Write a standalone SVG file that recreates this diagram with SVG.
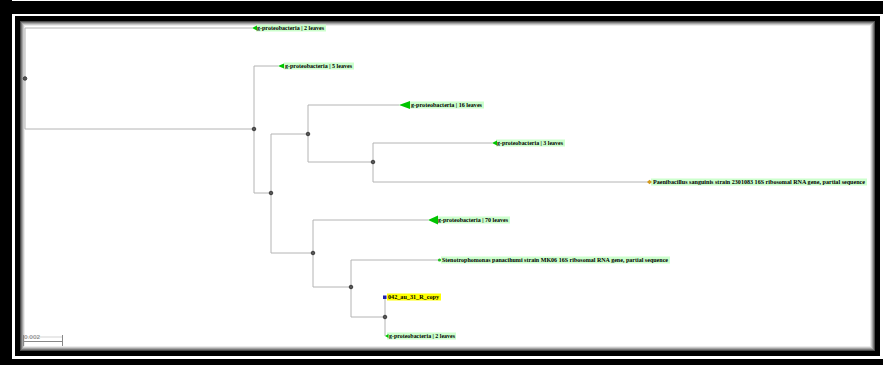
<svg xmlns="http://www.w3.org/2000/svg" width="883" height="365" viewBox="0 0 883 365">
<style>
.br{fill:none;stroke:#b4b4b4;stroke-width:1}
.nd{fill:#555;stroke:#2a2a2a;stroke-width:0.8}
.tri{fill:#00c400}
.bg{fill:#ccffcc}
.lb{font-family:"Liberation Serif","Times New Roman",serif;font-weight:bold;font-size:6px;fill:#000}
</style>
<rect x="0" y="0" width="883" height="365" fill="#fff"/>
<rect x="0" y="1" width="883" height="13" fill="#000"/>
<rect x="0" y="0" width="12" height="365" fill="#000"/>
<rect x="0" y="359" width="883" height="6" fill="#000"/>
<rect x="17.5" y="18.5" width="860" height="335" fill="none" stroke="#000" stroke-width="5"/>
<rect x="20.5" y="21.5" width="854" height="329" fill="none" stroke="#4a4a4a"/>
<rect x="21.5" y="22.5" width="852" height="327" fill="none" stroke="#7a7a7a"/>
<rect x="22.5" y="23.5" width="850" height="325" fill="none" stroke="#a4a4a4"/>
<rect x="23.5" y="24.5" width="848" height="323" fill="none" stroke="#cbcbcb"/>
<rect x="24.5" y="25.5" width="846" height="321" fill="none" stroke="#ececec"/>
<rect x="25" y="26" width="845" height="320" fill="#fff"/>
<g id="connectors">
<path class="br" d="M25,28 H252 M25,28 V129 H254"/>
<path class="br" d="M254,66 V193 M254,66 H278 M254,193 H271"/>
<path class="br" d="M271,134 V253 M271,134 H308 M271,253 H313"/>
<path class="br" d="M308,105 V162 M308,105 H399 M308,162 H373"/>
<path class="br" d="M373,143 V182 M373,143 H492 M373,182 H648"/>
<path class="br" d="M313,220 V287 M313,220 H428 M313,287 H351"/>
<path class="br" d="M351,260 V317 M351,260 H438 M351,317 H385"/>
<path class="br" d="M385,297 V336"/>
</g>
<g id="nodes">
<circle class="nd" cx="25" cy="78.5" r="1.8"/>
<circle class="nd" cx="254" cy="129" r="1.8"/>
<circle class="nd" cx="271" cy="193" r="1.8"/>
<circle class="nd" cx="308" cy="134" r="1.8"/>
<circle class="nd" cx="373" cy="162" r="1.8"/>
<circle class="nd" cx="313" cy="253" r="1.8"/>
<circle class="nd" cx="351" cy="287" r="1.8"/>
<circle class="nd" cx="385" cy="317" r="1.8"/>
</g>
<g id="leaf1">
<rect class="bg" x="256" y="24.5" width="70" height="7"/>
<polygon class="tri" points="252,28 257,25.5 257,30.5"/>
<text class="lb" x="257" y="30" textLength="67" lengthAdjust="spacingAndGlyphs">g-proteobacteria | 2 leaves</text>
</g>
<g id="leaf2">
<rect class="bg" x="284" y="62.5" width="70" height="7"/>
<polygon class="tri" points="278,66 284,63.5 284,68.5"/>
<text class="lb" x="285" y="68" textLength="67" lengthAdjust="spacingAndGlyphs">g-proteobacteria | 5 leaves</text>
</g>
<g id="leaf3">
<rect class="bg" x="409" y="101.5" width="75" height="7"/>
<polygon class="tri" points="399,105 410,101 410,109"/>
<text class="lb" x="411" y="107" textLength="71" lengthAdjust="spacingAndGlyphs">g-proteobacteria | 16 leaves</text>
</g>
<g id="leaf4">
<rect class="bg" x="496" y="139.5" width="69" height="7"/>
<polygon class="tri" points="492,143 497,140.5 497,145.5"/>
<text class="lb" x="497" y="145" textLength="66" lengthAdjust="spacingAndGlyphs">g-proteobacteria | 3 leaves</text>
</g>
<g id="leaf5">
<rect class="bg" x="651" y="178.5" width="216" height="7"/>
<polygon points="647,182 649.5,179.8 652,182 649.5,184.2" fill="#d49a1c"/>
<text class="lb" x="653" y="184" textLength="212" lengthAdjust="spacingAndGlyphs">Paenibacillus sanguinis strain 2301083 16S ribosomal RNA gene, partial sequence</text>
</g>
<g id="leaf6">
<rect class="bg" x="437" y="216.5" width="73" height="7"/>
<polygon class="tri" points="428,220 438,215.5 438,224.5"/>
<text class="lb" x="438" y="222" textLength="70" lengthAdjust="spacingAndGlyphs">g-proteobacteria | 70 leaves</text>
</g>
<g id="leaf7">
<rect class="bg" x="441" y="256.5" width="229" height="7"/>
<circle cx="439.5" cy="260" r="1.6" fill="#22c022"/>
<text class="lb" x="442" y="262" textLength="226" lengthAdjust="spacingAndGlyphs">Stenotrophomonas panacihumi strain MK06 16S ribosomal RNA gene, partial sequence</text>
</g>
<g id="leaf8">
<rect x="387" y="293.5" width="54" height="7" fill="#ffff00"/>
<rect x="383" y="295.5" width="3.5" height="3.5" fill="#2222aa"/>
<text class="lb" x="388" y="299" textLength="51" lengthAdjust="spacingAndGlyphs">042_au_31_R_copy</text>
</g>
<g id="leaf9">
<rect class="bg" x="387" y="332.5" width="69" height="7"/>
<polygon class="tri" points="385,336 388.5,334 388.5,338"/>
<text class="lb" x="389" y="338" textLength="66" lengthAdjust="spacingAndGlyphs">g-proteobacteria | 2 leaves</text>
</g>
<g id="scalebar">
<path d="M23,337 H63" fill="none" stroke="#c8c8c8" stroke-width="0.8"/>
<path d="M23,341.5 H63 M23.5,335 V346 M62.5,335 V346" fill="none" stroke="#888" stroke-width="1"/>
<text x="24" y="339" font-family="Liberation Sans, Arial, sans-serif" font-size="5" fill="#777" textLength="16" lengthAdjust="spacingAndGlyphs">0.002</text>
</g>
</svg>
